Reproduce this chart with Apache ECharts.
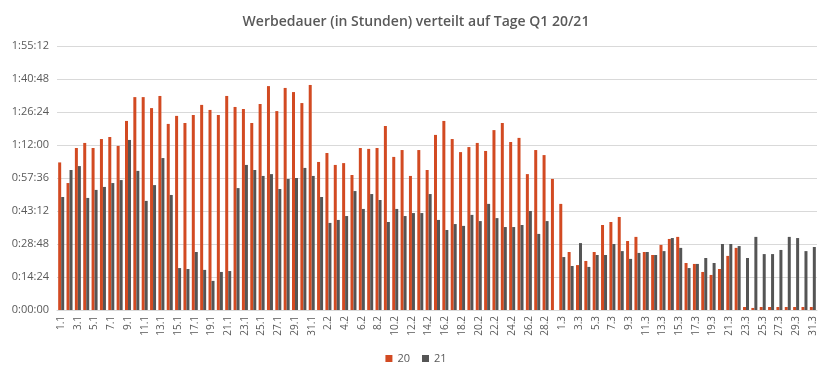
<!DOCTYPE html>
<html>
<head>
<meta charset="utf-8">
<script src="https://cdn.jsdelivr.net/npm/echarts@6/dist/echarts.min.js"></script>
<style>html,body{margin:0;padding:0;background:#fff}#c{width:832px;height:379px}</style>
</head>
<body>
<div id="c"></div>
<script>
// Categories: days of Q1 (day.month)
const categories = [];
const monthDays = [[1,31],[2,29],[3,31]];
for (const [m, n] of monthDays) for (let d = 1; d <= n; d++) categories.push(d + '.' + m);

// Minutes per day
const series20 = [
  64.4,55.4,70.7,72.9,70.7,74.6,75.5,71.6,82.5,92.9,92.9,88.1,93.4,81.2,84.7,81.6,85.1,89.5,87.3,85.1,93.4,88.6,87.7,81.6,89.9,97.7,86.8,96.9,95.1,90.3,98.2,
  64.6,68.5,63.3,64.1,58.9,70.7,70.3,70.7,80.3,66.8,69.8,58.5,69.8,61.1,76.4,82.5,74.6,68.9,71.1,72.9,69.4,78.5,81.6,73.3,75.1,59.3,69.8,67.6,57.2,
  46.3,25.3,19.6,21.4,25.3,37.1,38.4,40.6,30.1,31.9,25.3,24.0,28.4,31.0,31.9,20.5,20.1,16.6,15.3,17.9,23.6,27.1,1.3,0.9,1.3,1.3,1.3,1.3,1.3,1.3,1.3
];
const series21 = [
  49.3,61.1,62.8,48.9,52.4,53.7,55.4,56.7,74.2,60.7,47.6,54.5,66.3,50.2,18.3,17.9,25.3,17.5,12.7,16.6,17.0,53.2,63.3,61.1,58.5,59.3,52.8,57.2,57.6,62.0,58.5,
  49.3,38.0,39.3,41.0,51.9,44.1,50.6,48.0,38.4,44.1,41.0,42.3,42.3,50.6,39.3,34.9,37.5,36.7,41.5,38.8,46.3,40.1,36.2,36.2,37.1,43.2,33.2,38.8,null,
  23.1,19.2,29.2,18.8,24.0,24.0,28.8,25.7,22.3,24.9,25.3,24.0,25.7,31.4,27.1,18.3,20.1,22.7,20.5,28.8,28.8,27.9,22.7,31.9,24.4,24.4,26.2,31.9,31.4,25.7,27.5
];
const seriesNames = ['20', '21'];

function fmt(sec) {
  sec = Math.round(sec);
  const h = Math.floor(sec / 3600), m = Math.floor((sec % 3600) / 60), s = sec % 60;
  return h + ':' + String(m).padStart(2, '0') + ':' + String(s).padStart(2, '0');
}
const toSec = a => a.map(v => v == null ? null : v * 60);

const chart = echarts.init(document.getElementById('c'));
chart.setOption({
  animation: false,
  title: {
    text: 'Werbedauer (in Stunden) verteilt auf Tage Q1 20/21',
    left: 'center', top: 10,
    textStyle: { fontFamily: 'Open Sans', fontSize: 14, fontWeight: 600, color: '#595959' }
  },
  legend: {
    bottom: 10, left: 'center', itemWidth: 7, itemHeight: 7, itemGap: 12,
    icon: 'rect',
    textStyle: { fontFamily: 'Open Sans', fontSize: 11, color: '#595959' },
    data: seriesNames
  },
  grid: { left: 57, right: 15, top: 46, bottom: 69, containLabel: false },
  xAxis: {
    type: 'category', data: categories,
    axisLine: { lineStyle: { color: '#D9D9D9' } },
    axisTick: { show: false },
    axisLabel: { interval: 1, rotate: 90, fontFamily: 'Open Sans', fontSize: 10, color: '#595959', margin: 6 }
  },
  yAxis: {
    type: 'value', min: 0, max: 6912, interval: 864,
    axisLine: { show: false }, axisTick: { show: false },
    splitLine: { lineStyle: { color: '#D9D9D9' } },
    axisLabel: { formatter: fmt, fontFamily: 'Open Sans', fontSize: 11, color: '#595959', margin: 8 }
  },
  series: [
    { name: seriesNames[0], type: 'bar', data: toSec(series20), barWidth: 3, barGap: '0%', itemStyle: { color: '#D24A22' } },
    { name: seriesNames[1], type: 'bar', data: toSec(series21), barWidth: 3, barGap: '0%', itemStyle: { color: '#555555' } }
  ]
});
</script>
</body>
</html>
